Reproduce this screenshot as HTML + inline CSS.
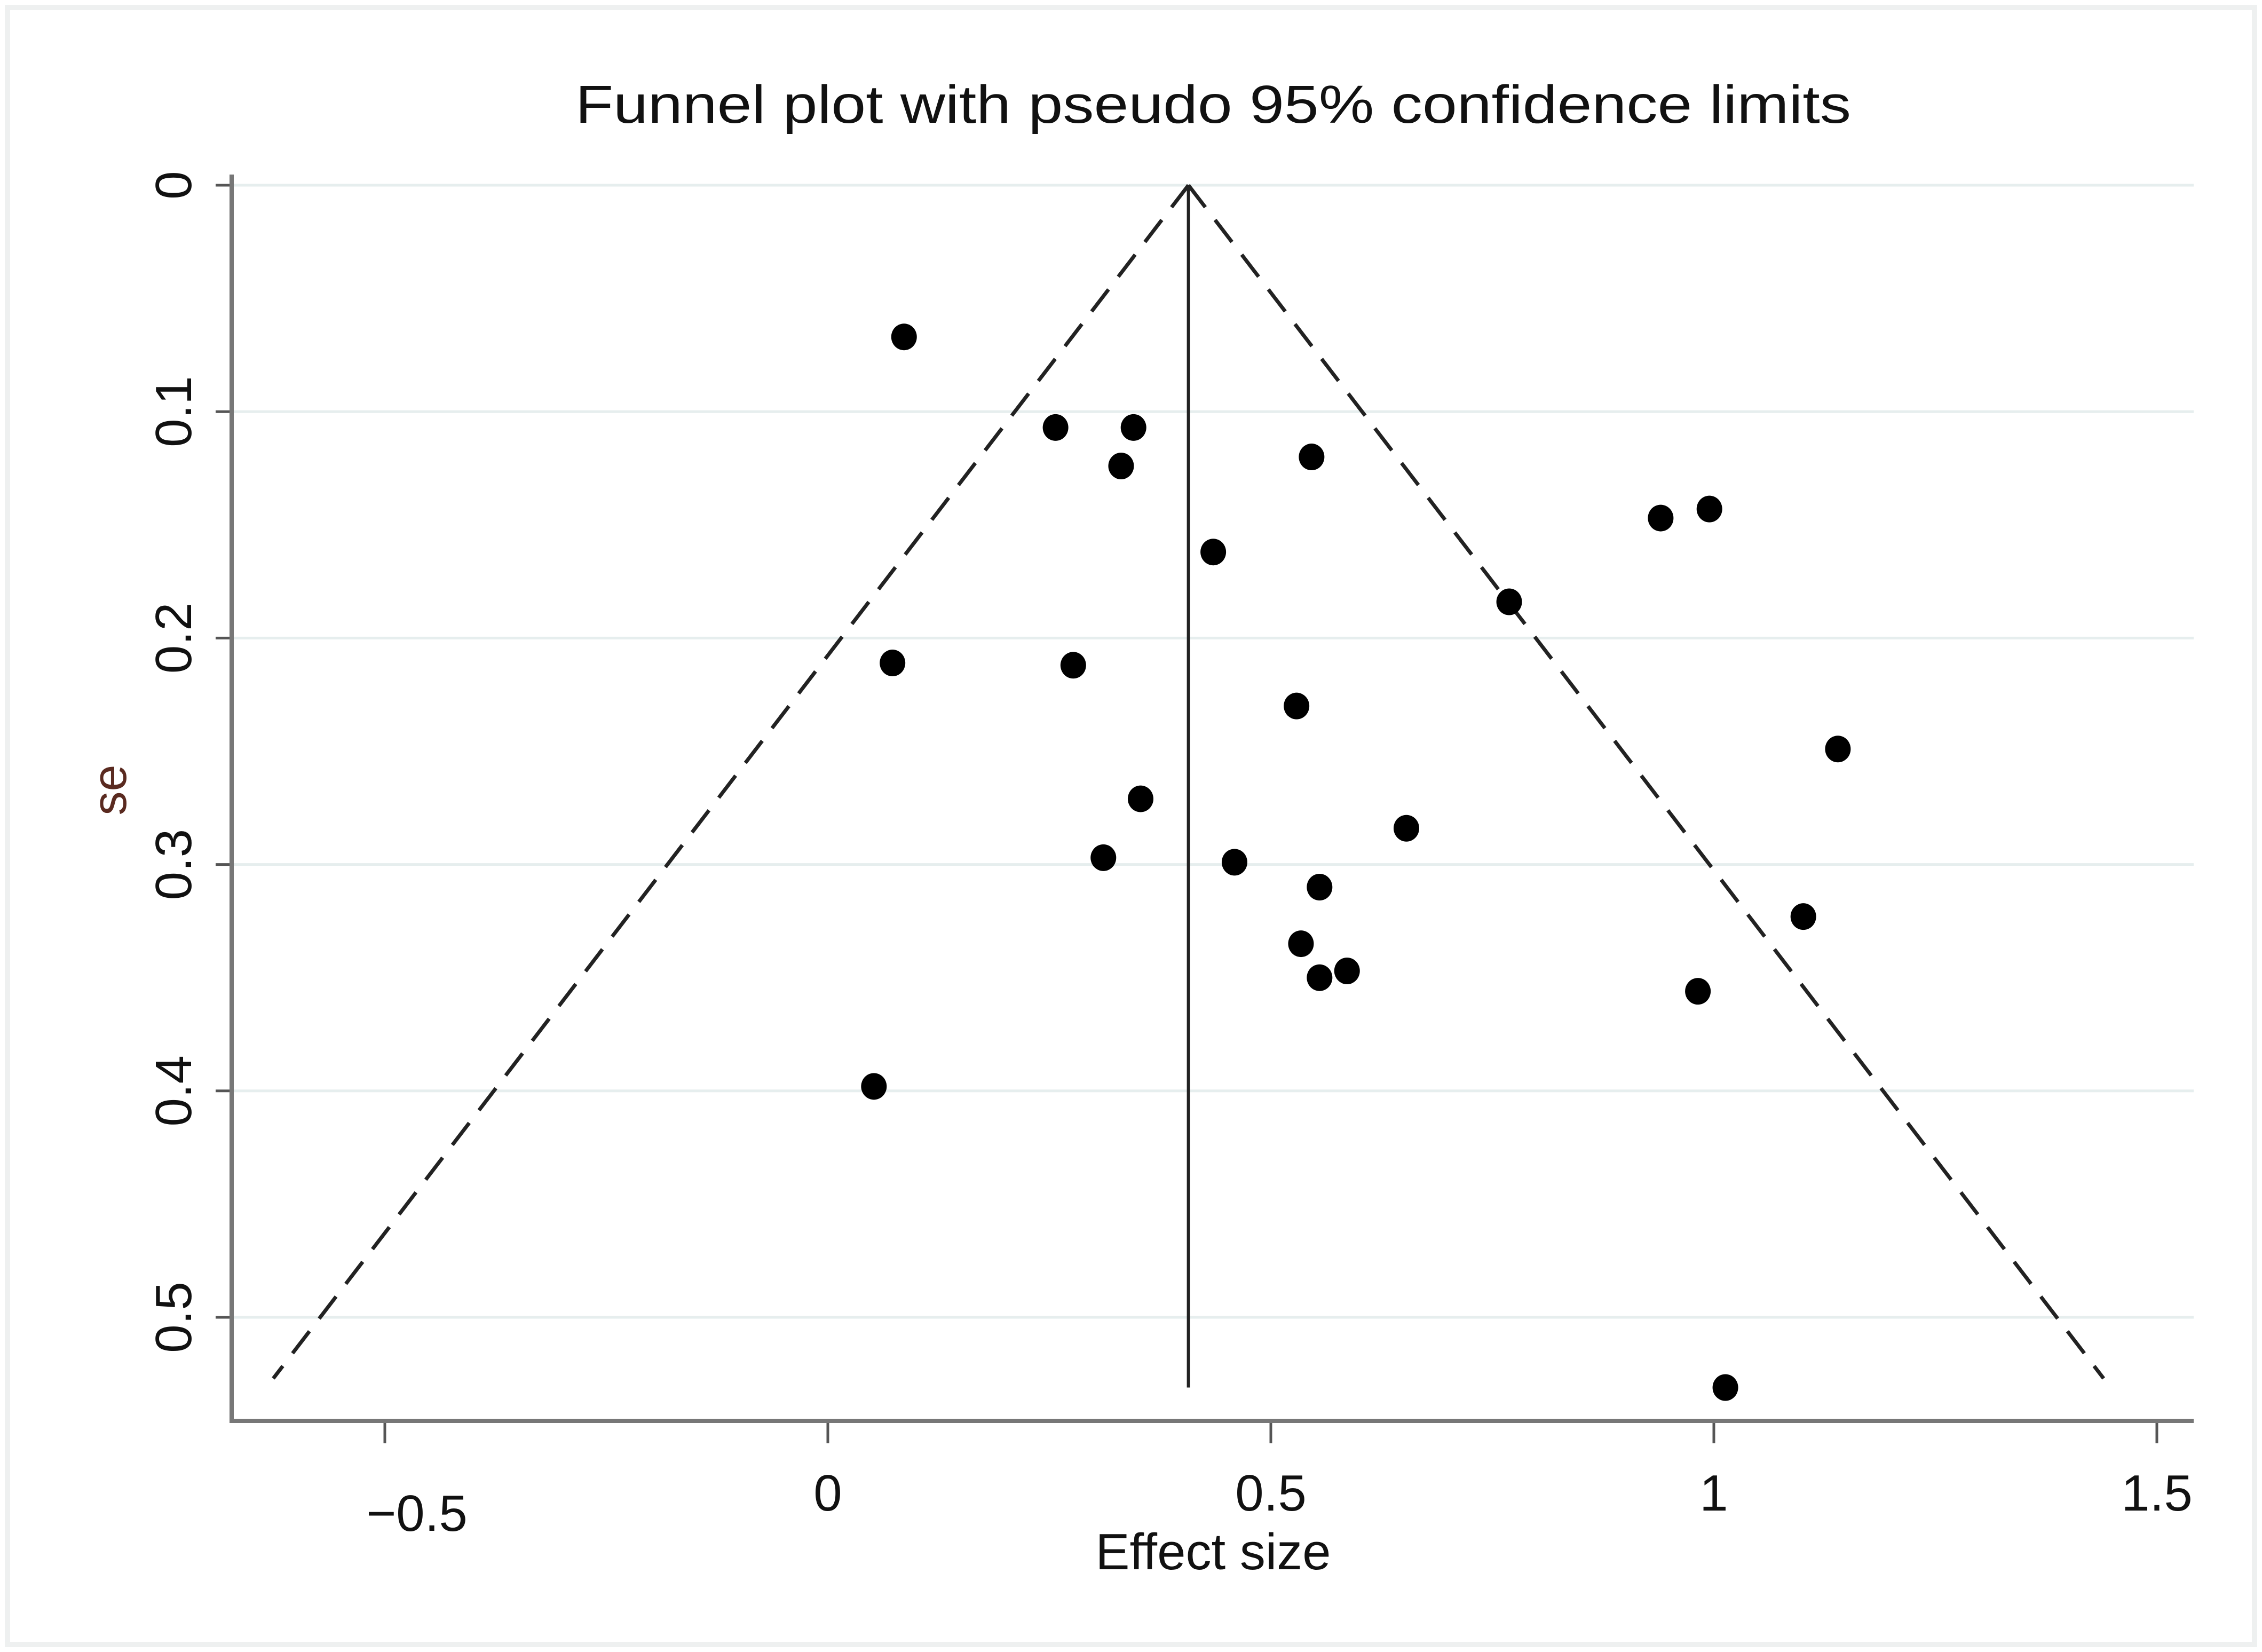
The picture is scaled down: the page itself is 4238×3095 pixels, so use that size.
<!DOCTYPE html>
<html><head><meta charset="utf-8"><style>html,body{margin:0;padding:0;background:#fff}svg{display:block}</style></head>
<body>
<svg id="chart" width="4238" height="3095" viewBox="0 0 4238 3095" xmlns="http://www.w3.org/2000/svg" font-family="Liberation Sans, sans-serif">
<rect x="0" y="0" width="4238" height="3095" fill="#fff"/>
<rect x="14" y="14" width="4210" height="3067" fill="none" stroke="#eef0f0" stroke-width="10"/>
<text x="2273" y="230" font-size="100" text-anchor="middle" textLength="2390" lengthAdjust="spacingAndGlyphs" fill="#111">Funnel plot with pseudo 95% confidence limits</text>
<g id="grid"></g>
<g id="axes"></g>
<g id="marks"></g>
</svg>
<script>
const xTicks = [-0.5, 0, 0.5, 1, 1.5];
const xTickLabels = ["\u22120.5", "0", "0.5", "1", "1.5"];
const yTicks = [0, 0.1, 0.2, 0.3, 0.4, 0.5];
const yTickLabels = ["0", "0.1", "0.2", "0.3", "0.4", "0.5"];
const effectSizes = [0.086,0.257,0.345,0.331,0.546,0.435,0.940,0.995,0.769,0.073,0.277,0.529,1.140,0.353,0.653,0.311,0.459,0.555,1.101,0.534,0.555,0.586,0.982,0.052,1.013];
const standardErrors = [0.067,0.107,0.107,0.124,0.120,0.162,0.147,0.143,0.184,0.211,0.212,0.230,0.249,0.271,0.284,0.297,0.299,0.310,0.323,0.335,0.350,0.347,0.356,0.398,0.531];
const pooledEffect = [0.407];
const maxSe = [0.527];

const NS = "http://www.w3.org/2000/svg";
function X(v){ return 1551 + v*1660; }
function Y(v){ return 347 + v*4242; }
function mk(parent, tag, attrs){
  const e = document.createElementNS(NS, tag);
  for (const k in attrs) e.setAttribute(k, attrs[k]);
  document.getElementById(parent).appendChild(e);
  return e;
}
const axL = 434, axR = 4110, axB = 2662;

yTicks.forEach((t,i)=>{
  const g = mk('grid','line',{x1:axL,x2:axR,y1:Y(t),y2:Y(t),stroke:'#e6eeee','stroke-width':5});
  
  
  const tk = mk('axes','line',{x1:axL-30,x2:axL,y1:Y(t),y2:Y(t),stroke:'#555','stroke-width':5});
  
  
  const lb = mk('axes','text',{x:0,y:0,'font-size':96,'text-anchor':'middle',fill:'#111',transform:`translate(358,${Y(t)}) rotate(-90)`});
  lb.textContent = yTickLabels[i];
  
  
});
xTicks.forEach((t,i)=>{
  const tk = mk('axes','line',{x1:X(t),x2:X(t),y1:axB,y2:axB+42,stroke:'#555','stroke-width':5});
  
  
  const off = (t<0) ? 60 : 0;
  const lb = mk('axes','text',{x:X(t)+off,y:(t<0)?2868:2830,'font-size':96,'text-anchor':'middle',fill:'#111'});
  lb.textContent = xTickLabels[i];
  
  
});
const ya = mk('axes','line',{x1:axL,x2:axL,y1:Y(0)-20,y2:axB,stroke:'#777','stroke-width':8});


const xa = mk('axes','line',{x1:axL-4,x2:axR,y1:axB,y2:axB,stroke:'#777','stroke-width':8});


const xt = mk('axes','text',{x:2273,y:2940,'font-size':96,'text-anchor':'middle',fill:'#111'});
xt.textContent = 'Effect size';


const yt = mk('axes','text',{x:0,y:0,'font-size':90,'text-anchor':'middle',fill:'#5a2a20',transform:'translate(236,1480) rotate(-90)'});
yt.textContent = 'se';



const p = pooledEffect[0], m = maxSe[0];
const cl = mk('marks','line',{x1:X(p),x2:X(p),y1:Y(0),y2:Y(m+0.004),stroke:'#222','stroke-width':6});


[-1,1].forEach(s=>{
  const l = mk('marks','line',{x1:X(p),y1:Y(0),x2:X(p+s*1.96*m),y2:Y(m),stroke:'#222','stroke-width':7,'stroke-dasharray':'52 30'});
  
  
});
effectSizes.forEach((e,i)=>{
  const c = mk('marks','ellipse',{cx:X(e),cy:Y(standardErrors[i]),rx:24,ry:25,fill:'#000'});
  
  
});
</script>
</body></html>
